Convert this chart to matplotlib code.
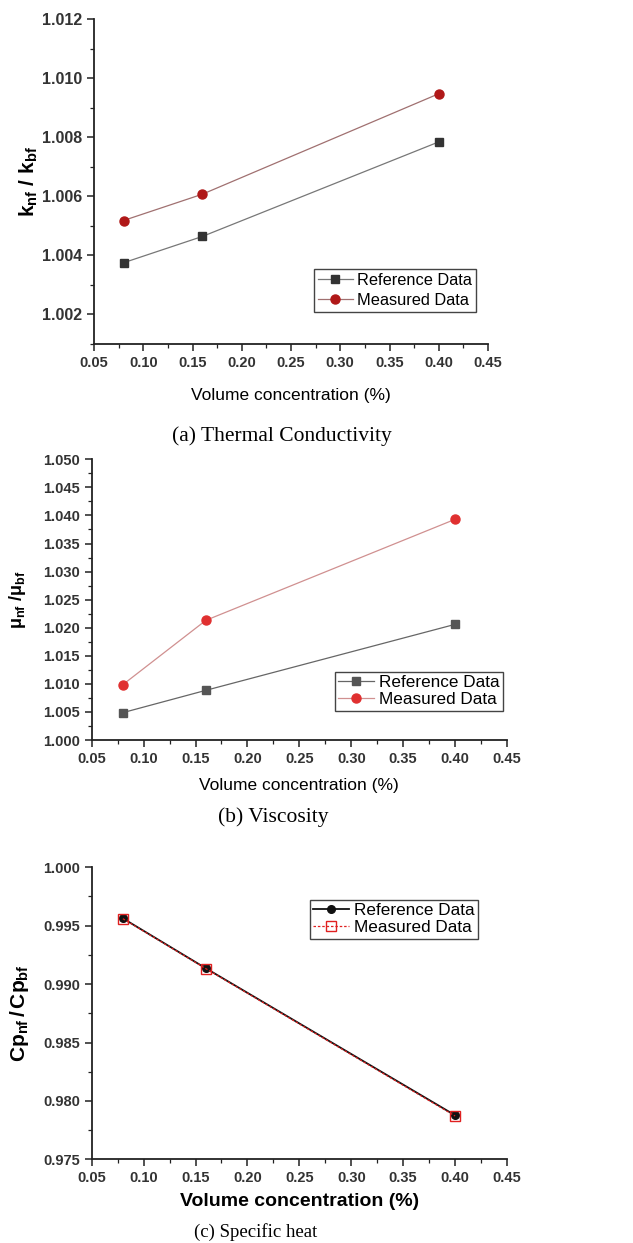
import matplotlib
matplotlib.use("Agg")
import matplotlib.pyplot as plt
from matplotlib.ticker import MultipleLocator, FormatStrFormatter

plt.rcParams['font.family'] = ['Liberation Sans', 'DejaVu Sans']
plt.rcParams['mathtext.fontset'] = 'custom'
plt.rcParams['mathtext.rm'] = 'Liberation Sans'
plt.rcParams['mathtext.it'] = 'Liberation Sans'
plt.rcParams['mathtext.bf'] = 'Liberation Sans:bold'

# ---- data ----
conc = [0.08, 0.16, 0.40]
k_reference = [1.00375, 1.00464, 1.00784]
k_measured = [1.00518, 1.00607, 1.00947]
mu_reference = [1.00487, 1.00885, 1.02060]
mu_measured = [1.00986, 1.02132, 1.03931]
cp_reference = [0.99563, 0.99135, 0.97877]
cp_measured = [0.99560, 0.99132, 0.97871]

x_ticks = [0.05, 0.10, 0.15, 0.20, 0.25, 0.30, 0.35, 0.40, 0.45]
labels = ["Reference Data", "Measured Data"]
captions = ["(a) Thermal Conductivity", "(b) Viscosity", "(c) Specific heat"]
xlabel = "Volume concentration (%)"

W, H = 633, 1243
fig = plt.figure(figsize=(W / 100, H / 100), dpi=100)


def box(l, t, r, b):
    return [l / W, 1 - b / H, (r - l) / W, (b - t) / H]


def style(ax, ymin, ymax, ymaj, ymin_loc, yfmt, xsize, ysize):
    for s in ['top', 'right']:
        ax.spines[s].set_visible(False)
    for s in ['left', 'bottom']:
        ax.spines[s].set_color('#222222')
        ax.spines[s].set_linewidth(1.3)
    ax.set_xlim(0.05, 0.45)
    ax.set_ylim(ymin, ymax)
    ax.set_xticks(x_ticks)
    ax.xaxis.set_major_formatter(FormatStrFormatter('%.2f'))
    ax.xaxis.set_minor_locator(MultipleLocator(0.025))
    ax.yaxis.set_major_locator(MultipleLocator(ymaj))
    ax.yaxis.set_minor_locator(MultipleLocator(ymin_loc))
    ax.yaxis.set_major_formatter(FormatStrFormatter(yfmt))
    ax.tick_params(which='major', direction='out', length=5, width=1.1, color='#222222',
                   labelcolor='#333333')
    ax.tick_params(axis='x', which='major', labelsize=xsize)
    ax.tick_params(axis='y', which='major', labelsize=ysize)
    ax.tick_params(which='minor', direction='out', length=3, width=0.9, color='#222222')
    for lab in ax.get_xticklabels() + ax.get_yticklabels():
        lab.set_fontweight('bold')


def legend(ax, x, y, size, pad, spacing):
    ax.legend(loc='upper left', bbox_to_anchor=(x / W, 1 - y / H), bbox_transform=fig.transFigure,
              borderaxespad=0, fancybox=False, edgecolor='#444444', framealpha=1,
              fontsize=size, handlelength=2.1, borderpad=pad, labelspacing=spacing,
              handletextpad=0.3)


# ---- (a) thermal conductivity ----
axa = fig.add_axes(box(94, 19, 488, 344))
style(axa, 1.001, 1.012, 0.002, 0.001, '%.3f', 10.5, 11.5)
axa.set_yticks([1.002, 1.004, 1.006, 1.008, 1.010, 1.012])
for lab in axa.get_yticklabels():
    lab.set_fontweight('bold')
axa.plot(conc, k_reference, color='#777777', lw=0.9, marker='s', ms=6,
         mfc='#333333', mec='#333333', label=labels[0])
axa.plot(conc, k_measured, color='#a07070', lw=0.9, marker='o', ms=6.5,
         mfc='#b01818', mec='#b01818', label=labels[1])
axa.set_ylabel(r'$\mathbf{k_{nf}\ /\ k_{bf}}$', fontsize=15)
axa.yaxis.set_label_coords(-0.137, 0.5)
axa.set_xlabel(xlabel, fontsize=12.5, labelpad=13)
legend(axa, 314, 269, 11.8, 0.25, 0.3)
fig.text(282 / W, 1 - 436 / H, captions[0], family='Liberation Serif', fontsize=15.5,
         ha='center', va='center')

# ---- (b) viscosity ----
axb = fig.add_axes(box(91.7, 459.3, 507, 740))
style(axb, 1.000, 1.050, 0.005, 0.0025, '%.3f', 10.5, 10.5)
axb.plot(conc, mu_reference, color='#666666', lw=0.9, marker='s', ms=6,
         mfc='#555555', mec='#555555', label=labels[0])
axb.plot(conc, mu_measured, color='#d09090', lw=0.9, marker='o', ms=6.5,
         mfc='#e03030', mec='#e03030', label=labels[1])
axb.set_ylabel(r'$\mathbf{μ_{nf}\ /μ_{bf}}$', fontsize=13)
axb.yaxis.set_label_coords(-0.153, 0.5)
axb.set_xlabel(xlabel, fontsize=12.5, labelpad=9)
legend(axb, 335, 671.7, 12.3, 0.2, 0.12)
fig.text(273 / W, 1 - 817 / H, captions[1], family='Liberation Serif', fontsize=15.5,
         ha='center', va='center')

# ---- (c) specific heat ----
axc = fig.add_axes(box(91.7, 867.3, 507, 1159.3))
style(axc, 0.975, 1.000, 0.005, 0.0025, '%.3f', 10.5, 10.5)
axc.plot(conc, cp_reference, color='#111111', lw=1.3, marker='o', ms=5.5,
         mfc='#111111', mec='#111111', label=labels[0])
axc.plot(conc, cp_measured, color='#e02020', lw=0.9, ls=(0, (2, 1.5)), marker='s', ms=6.5,
         mfc='none', mec='#e02020', mew=1.0, label=labels[1])
axc.set_ylabel(r'$\mathbf{Cp_{nf}\,/\,Cp_{bf}}$', fontsize=15)
axc.yaxis.set_label_coords(-0.146, 0.5)
axc.set_xlabel(xlabel, fontsize=14, fontweight='bold', labelpad=6)
legend(axc, 310, 900, 12.3, 0.2, 0.12)
fig.text(256 / W, 1 - 1232 / H, captions[2], family='Liberation Serif', fontsize=13.5,
         ha='center', va='center')

fig.savefig('out.png', dpi=100)
